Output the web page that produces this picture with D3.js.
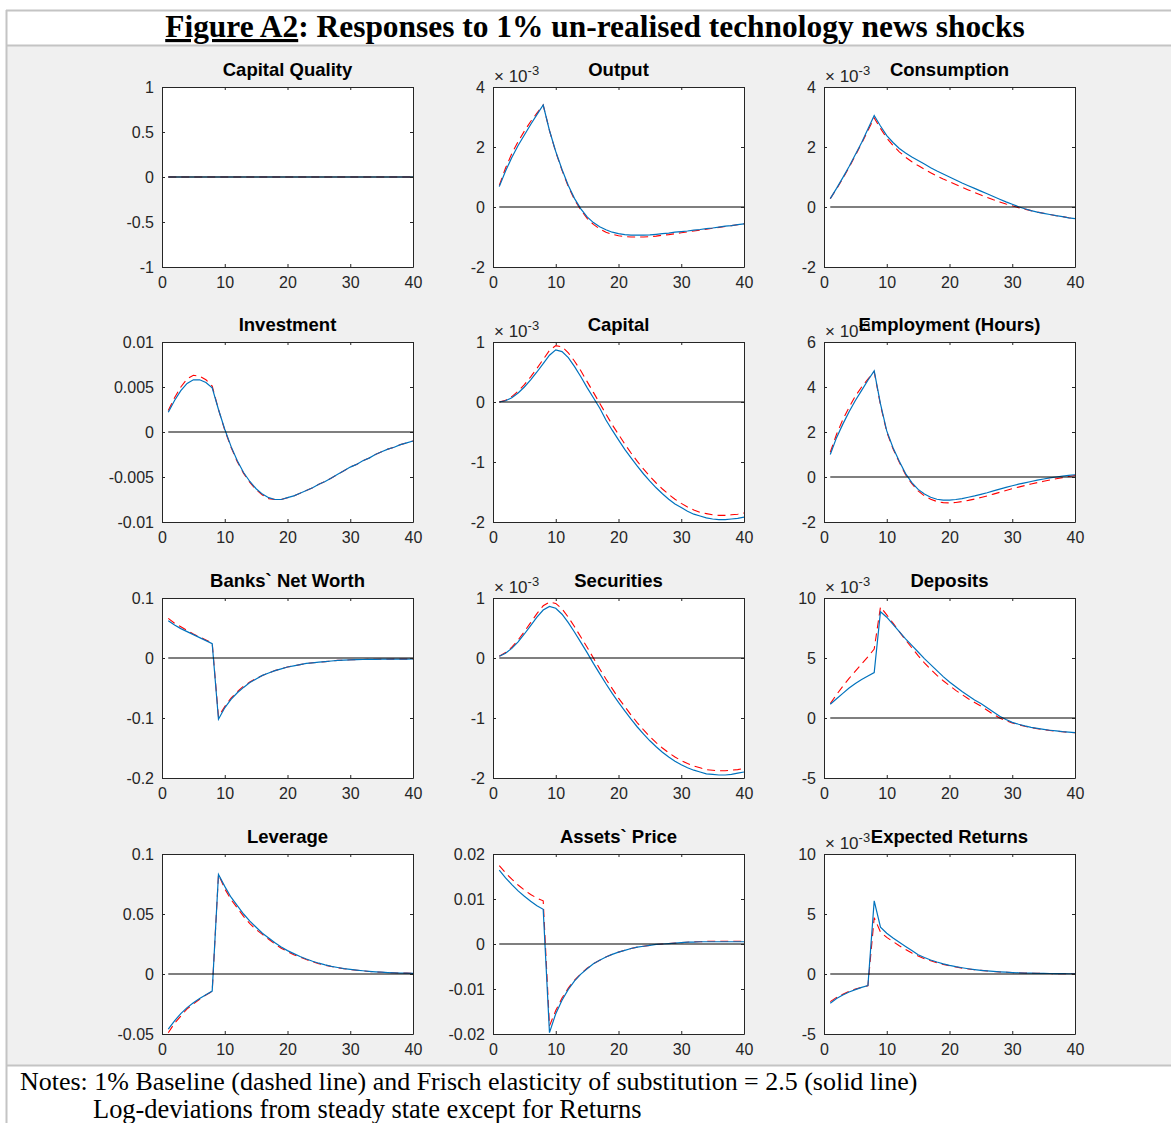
<!DOCTYPE html>
<html>
<head>
<meta charset="utf-8">
<script src="https://cdn.jsdelivr.net/npm/d3@7"></script>
<style>
body { margin: 0; background: #fff; }
svg text { font-family: "Liberation Sans", Arial, sans-serif; }
</style>
</head>
<body>
<div id="canvas"></div>
<script>
// horizon (quarters)
const periods = [1,2,3,4,5,6,7,8,9,10,11,12,13,14,15,16,17,18,19,20,21,22,23,24,25,26,27,28,29,30,31,32,33,34,35,36,37,38,39,40];

const panelTitles = ["Capital Quality", "Output", "Consumption",
    "Investment", "Capital", "Employment (Hours)",
    "Banks` Net Worth", "Securities", "Deposits",
    "Leverage", "Assets` Price", "Expected Returns"];

// y tick values per panel (values shown in units of 10^exponent where an exponent is given)
const yTickValues = [
    [-1, -0.5, 0, 0.5, 1], [-2, 0, 2, 4], [-2, 0, 2, 4],
    [-0.01, -0.005, 0, 0.005, 0.01], [-2, -1, 0, 1], [-2, 0, 2, 4, 6],
    [-0.2, -0.1, 0, 0.1], [-2, -1, 0, 1], [-5, 0, 5, 10],
    [-0.05, 0, 0.05, 0.1], [-0.02, -0.01, 0, 0.01, 0.02], [-5, 0, 5, 10]
];
const xTickValues = [0, 10, 20, 30, 40];
const exponents = [null, -3, -3, null, -3, -3, null, -3, -3, null, null, -3];

// baseline = dashed red, frisch 2.5 = solid blue
const capQualityBase = [0,0,0,0,0,0,0,0,0,0,0,0,0,0,0,0,0,0,0,0,0,0,0,0,0,0,0,0,0,0,0,0,0,0,0,0,0,0,0,0];
const capQualityFrisch = [0,0,0,0,0,0,0,0,0,0,0,0,0,0,0,0,0,0,0,0,0,0,0,0,0,0,0,0,0,0,0,0,0,0,0,0,0,0,0,0];

const outputBase = [0.72,1.3,1.78,2.18,2.53,2.85,3.13,3.40,2.55,1.83,1.22,0.68,0.24,-0.1,-0.38,-0.58,-0.73,-0.84,-0.91,-0.96,-0.99,-1.0,-1.0,-1.0,-0.99,-0.97,-0.94,-0.92,-0.89,-0.86,-0.83,-0.8,-0.77,-0.74,-0.71,-0.68,-0.65,-0.62,-0.59,-0.56];
const outputFrisch = [0.68,1.2,1.65,2.05,2.4,2.75,3.08,3.40,2.55,1.85,1.25,0.72,0.28,-0.06,-0.33,-0.52,-0.66,-0.76,-0.84,-0.89,-0.92,-0.94,-0.94,-0.94,-0.93,-0.91,-0.89,-0.87,-0.84,-0.82,-0.8,-0.77,-0.75,-0.72,-0.7,-0.67,-0.64,-0.62,-0.59,-0.56];

const consumptionBase = [0.28,0.6,0.95,1.32,1.72,2.12,2.55,2.97,2.62,2.3,2.05,1.84,1.66,1.51,1.38,1.26,1.14,1.03,0.93,0.84,0.75,0.66,0.57,0.48,0.4,0.32,0.24,0.17,0.1,0.04,-0.02,-0.07,-0.12,-0.17,-0.21,-0.25,-0.29,-0.32,-0.36,-0.39];
const consumptionFrisch = [0.28,0.62,0.98,1.35,1.75,2.15,2.6,3.05,2.7,2.38,2.15,1.95,1.8,1.67,1.55,1.43,1.31,1.2,1.1,1.0,0.9,0.8,0.71,0.62,0.53,0.44,0.35,0.26,0.17,0.09,0.01,-0.06,-0.12,-0.17,-0.21,-0.25,-0.29,-0.32,-0.36,-0.39];

const investmentBase = [0.0024,0.0038,0.005,0.0059,0.0063,0.0062,0.0058,0.0051,0.0025,0.0002,-0.0017,-0.0033,-0.0046,-0.0056,-0.0064,-0.007,-0.0074,-0.0075,-0.0075,-0.0073,-0.0071,-0.0068,-0.0065,-0.0062,-0.0058,-0.0055,-0.0051,-0.0047,-0.0043,-0.0039,-0.0036,-0.0032,-0.0029,-0.0025,-0.0022,-0.0019,-0.0017,-0.0014,-0.0012,-0.001];
const investmentFrisch = [0.0022,0.0035,0.0046,0.0054,0.0058,0.0058,0.0055,0.0049,0.0025,0.0003,-0.0016,-0.0032,-0.0045,-0.0055,-0.0063,-0.0069,-0.0073,-0.0075,-0.0075,-0.0073,-0.0071,-0.0068,-0.0065,-0.0062,-0.0058,-0.0055,-0.0051,-0.0047,-0.0043,-0.0039,-0.0036,-0.0032,-0.0029,-0.0025,-0.0022,-0.0019,-0.0017,-0.0014,-0.0012,-0.001];

const capitalBase = [0.0,0.03,0.09,0.18,0.29,0.42,0.56,0.71,0.86,0.94,0.92,0.82,0.68,0.52,0.34,0.16,-0.02,-0.2,-0.38,-0.54,-0.7,-0.85,-0.99,-1.12,-1.24,-1.35,-1.45,-1.54,-1.62,-1.69,-1.75,-1.8,-1.84,-1.86,-1.88,-1.89,-1.89,-1.88,-1.87,-1.85];
const capitalFrisch = [0.0,0.02,0.07,0.15,0.25,0.37,0.5,0.64,0.78,0.87,0.84,0.74,0.59,0.42,0.24,0.07,-0.1,-0.3,-0.47,-0.63,-0.79,-0.93,-1.07,-1.2,-1.32,-1.43,-1.53,-1.62,-1.7,-1.76,-1.82,-1.87,-1.9,-1.93,-1.95,-1.96,-1.96,-1.95,-1.94,-1.92];

const employmentBase = [1.1,1.9,2.55,3.1,3.6,4.0,4.35,4.68,3.2,2.0,1.25,0.65,0.1,-0.3,-0.62,-0.84,-0.99,-1.09,-1.14,-1.15,-1.13,-1.09,-1.04,-0.98,-0.91,-0.84,-0.76,-0.68,-0.6,-0.52,-0.45,-0.38,-0.31,-0.25,-0.19,-0.13,-0.08,-0.03,0.02,0.07];
const employmentFrisch = [1.0,1.75,2.35,2.9,3.4,3.85,4.3,4.72,3.25,2.05,1.3,0.7,0.15,-0.25,-0.55,-0.76,-0.9,-0.99,-1.03,-1.03,-1.0,-0.96,-0.9,-0.84,-0.77,-0.7,-0.62,-0.54,-0.46,-0.39,-0.32,-0.26,-0.2,-0.14,-0.09,-0.04,0.0,0.04,0.07,0.1];

const netWorthBase = [0.066,0.058,0.052,0.046,0.04,0.035,0.03,0.025,-0.098,-0.081,-0.067,-0.056,-0.047,-0.04,-0.034,-0.029,-0.025,-0.021,-0.018,-0.015,-0.013,-0.011,-0.009,-0.008,-0.007,-0.006,-0.005,-0.004,-0.0035,-0.003,-0.0027,-0.0025,-0.0023,-0.0022,-0.002,-0.002,-0.0019,-0.0018,-0.0018,-0.0017];
const netWorthFrisch = [0.062,0.055,0.049,0.044,0.039,0.034,0.029,0.024,-0.102,-0.083,-0.069,-0.058,-0.049,-0.041,-0.035,-0.029,-0.025,-0.021,-0.018,-0.015,-0.013,-0.011,-0.009,-0.008,-0.007,-0.006,-0.005,-0.004,-0.0035,-0.003,-0.0027,-0.0025,-0.0023,-0.0022,-0.002,-0.002,-0.0019,-0.0018,-0.0018,-0.0017];

const securitiesBase = [0.03,0.09,0.18,0.3,0.44,0.59,0.74,0.87,0.93,0.91,0.82,0.68,0.52,0.35,0.18,0.0,-0.18,-0.35,-0.51,-0.67,-0.81,-0.95,-1.08,-1.2,-1.31,-1.41,-1.5,-1.58,-1.65,-1.71,-1.76,-1.8,-1.83,-1.86,-1.87,-1.88,-1.88,-1.87,-1.86,-1.84];
const securitiesFrisch = [0.03,0.08,0.16,0.27,0.4,0.54,0.68,0.8,0.86,0.83,0.73,0.59,0.43,0.26,0.09,-0.09,-0.26,-0.43,-0.59,-0.74,-0.88,-1.02,-1.15,-1.27,-1.38,-1.48,-1.57,-1.65,-1.72,-1.78,-1.83,-1.87,-1.9,-1.93,-1.94,-1.95,-1.95,-1.94,-1.92,-1.9];

const depositsBase = [1.2,1.95,2.65,3.3,3.9,4.5,5.1,5.75,9.25,8.6,7.9,7.2,6.5,5.85,5.2,4.6,4.05,3.55,3.1,2.7,2.3,1.95,1.6,1.3,1.0,0.65,0.3,0.0,-0.22,-0.42,-0.56,-0.69,-0.8,-0.89,-0.97,-1.04,-1.1,-1.15,-1.19,-1.22];
const depositsFrisch = [1.15,1.6,2.05,2.5,2.88,3.2,3.5,3.78,8.85,8.4,7.8,7.2,6.6,6.05,5.5,4.95,4.45,3.95,3.45,3.0,2.6,2.2,1.85,1.5,1.2,0.85,0.5,0.15,-0.12,-0.36,-0.52,-0.66,-0.78,-0.87,-0.95,-1.02,-1.08,-1.14,-1.18,-1.22];

const leverageBase = [-0.049,-0.041,-0.035,-0.029,-0.025,-0.021,-0.0175,-0.0145,0.083,0.071,0.062,0.055,0.048,0.042,0.037,0.033,0.029,0.025,0.0215,0.0187,0.016,0.014,0.012,0.0102,0.0086,0.0073,0.0062,0.0052,0.0044,0.0037,0.0031,0.0026,0.0021,0.0017,0.0014,0.0012,0.001,0.0008,0.0007,0.0006];
const leverageFrisch = [-0.046,-0.039,-0.033,-0.028,-0.024,-0.0205,-0.0172,-0.0142,0.083,0.073,0.064,0.057,0.05,0.044,0.039,0.034,0.03,0.026,0.0225,0.0195,0.017,0.0146,0.0125,0.0106,0.009,0.0076,0.0064,0.0054,0.0045,0.0038,0.0032,0.0027,0.0022,0.0018,0.0015,0.0012,0.001,0.0008,0.0007,0.0006];

const assetPriceBase = [0.0174,0.0158,0.0144,0.0131,0.012,0.011,0.0102,0.0096,-0.0182,-0.0148,-0.012,-0.0098,-0.008,-0.0066,-0.0054,-0.0044,-0.0036,-0.0029,-0.0023,-0.0018,-0.0014,-0.001,-0.0007,-0.0005,-0.0003,-0.0001,0.0,0.0001,0.0002,0.0003,0.0004,0.0005,0.0005,0.0006,0.0006,0.0006,0.0006,0.0006,0.0006,0.0006];
const assetPriceFrisch = [0.0164,0.0147,0.0132,0.0118,0.0106,0.0095,0.0085,0.0077,-0.0197,-0.0155,-0.0125,-0.0101,-0.0082,-0.0067,-0.0055,-0.0044,-0.0036,-0.0029,-0.0023,-0.0018,-0.0014,-0.001,-0.0007,-0.0005,-0.0003,-0.0001,0.0,0.0001,0.0002,0.0003,0.0004,0.0004,0.0005,0.0005,0.0005,0.0005,0.0005,0.0005,0.0005,0.0005];

const returnsBase = [-2.3,-1.95,-1.68,-1.45,-1.26,-1.1,-0.98,4.7,3.5,3.05,2.7,2.35,2.05,1.75,1.5,1.28,1.1,0.94,0.8,0.68,0.58,0.49,0.42,0.35,0.3,0.25,0.21,0.17,0.14,0.12,0.1,0.08,0.07,0.06,0.05,0.04,0.03,0.03,0.02,0.02];
const returnsFrisch = [-2.44,-2.05,-1.75,-1.5,-1.3,-1.12,-0.97,6.1,3.9,3.4,3.0,2.65,2.3,1.95,1.6,1.37,1.17,1.0,0.85,0.72,0.61,0.52,0.44,0.37,0.31,0.26,0.22,0.18,0.15,0.12,0.1,0.08,0.07,0.06,0.05,0.04,0.03,0.03,0.02,0.02];

const baselineSeries = [capQualityBase, outputBase, consumptionBase, investmentBase, capitalBase, employmentBase,
    netWorthBase, securitiesBase, depositsBase, leverageBase, assetPriceBase, returnsBase];
const frischSeries = [capQualityFrisch, outputFrisch, consumptionFrisch, investmentFrisch, capitalFrisch, employmentFrisch,
    netWorthFrisch, securitiesFrisch, depositsFrisch, leverageFrisch, assetPriceFrisch, returnsFrisch];

const figTitle = "Figure A2";
const figSubtitle = ": Responses to 1% un-realised technology news shocks";
const notes = ["Notes: 1% Baseline (dashed line) and Frisch elasticity of substitution = 2.5 (solid line)",
    "Log-deviations from steady state except for Returns"];

const W = 1171, H = 1123;
const colX = [162, 493, 824], rowY = [87, 342, 598, 854];
const pw = 251, ph = 180;
const axisColor = "#262626";

const svg = d3.select("#canvas")
    .append("svg")
    .attr("width", W)
    .attr("height", H);

// frame of the figure
svg.append("rect").attr("x", 0).attr("y", 0).attr("width", W).attr("height", H).attr("fill", "#fff");
svg.append("rect").attr("x", 7).attr("y", 46).attr("width", W - 7).attr("height", 1019).attr("fill", "#f0f0f0");
const frameLines = [[6, 10.5, W, 10.5], [6.5, 10, 6.5, H], [6, 45.5, W, 45.5], [6, 1065.5, W, 1065.5]];
svg.selectAll("line.frame")
    .data(frameLines)
    .join("line")
    .attr("class", "frame")
    .attr("x1", d => d[0]).attr("y1", d => d[1])
    .attr("x2", d => d[2]).attr("y2", d => d[3])
    .attr("stroke", "#c4c4c4")
    .attr("stroke-width", 2);

// title
const title = svg.append("text")
    .attr("x", 595).attr("y", 37)
    .attr("text-anchor", "middle")
    .style("font-family", "'Liberation Serif', 'DejaVu Serif', serif")
    .style("font-weight", "bold")
    .style("font-size", "29px")
    .attr("fill", "#000");
title.append("tspan").text(figTitle).style("text-decoration", "underline");
title.append("tspan").text(figSubtitle);
fitWidth(title, 860);

// notes
const noteLines = svg.selectAll("text.note")
    .data(notes)
    .join("text")
    .attr("class", "note")
    .attr("x", (d, i) => i === 0 ? 20 : 93)
    .attr("y", (d, i) => i === 0 ? 1090 : 1118)
    .style("font-family", "'Liberation Serif', 'DejaVu Serif', serif")
    .style("font-size", "22px")
    .attr("fill", "#000")
    .text(d => d);
noteLines.each(function (d, i) { fitWidth(d3.select(this), i === 0 ? 898 : 549); });

function fitWidth(sel, target) {
    const len = sel.node().getComputedTextLength();
    const fs = parseFloat(sel.style("font-size"));
    sel.style("font-size", (fs * target / len) + "px");
}

// panels
panelTitles.forEach((name, i) => {
    const g = svg.append("g")
        .attr("transform", `translate(${colX[i % 3]},${rowY[Math.floor(i / 3)]})`);

    const x = d3.scaleLinear().domain([0, 40]).range([0, pw]);
    const ticks = yTickValues[i];
    const y = d3.scaleLinear().domain(d3.extent(ticks)).range([ph, 0]);

    g.append("rect").attr("width", pw).attr("height", ph).attr("fill", "#fff");

    const line = d3.line()
        .x((d, j) => x(periods[j]))
        .y(d => y(d));

    g.append("path")
        .datum(baselineSeries[i])
        .attr("fill", "none")
        .attr("stroke", "#ff0000")
        .attr("stroke-width", 1.1)
        .attr("stroke-dasharray", "8,5")
        .attr("d", line);

    g.append("path")
        .datum(frischSeries[i])
        .attr("fill", "none")
        .attr("stroke", "#0072bd")
        .attr("stroke-width", 1.2)
        .attr("d", line);

    // zero line
    g.append("line")
        .attr("x1", x(periods[0])).attr("x2", x(periods[periods.length - 1]))
        .attr("y1", y(0)).attr("y2", y(0))
        .attr("stroke", "#000")
        .attr("stroke-width", 1.1);

    // axes (box with inward ticks)
    const styleAxis = sel => {
        sel.select(".domain").attr("stroke", axisColor);
        sel.selectAll(".tick line").attr("stroke", axisColor);
        sel.selectAll("text").attr("fill", axisColor).style("font-size", "16px")
            .style("font-family", "'Liberation Sans', Arial, sans-serif");
    };
    g.append("g")
        .attr("transform", `translate(0,${ph})`)
        .call(d3.axisBottom(x).tickValues(xTickValues).tickSizeInner(-3).tickSizeOuter(0).tickPadding(10))
        .call(styleAxis);
    g.append("g")
        .call(d3.axisTop(x).tickValues(xTickValues).tickSizeInner(-3).tickSizeOuter(0).tickFormat(""))
        .call(styleAxis);
    g.append("g")
        .call(d3.axisLeft(y).tickValues(ticks).tickSizeInner(-3).tickSizeOuter(0).tickPadding(8).tickFormat(d => String(d)))
        .call(styleAxis);
    g.append("g")
        .attr("transform", `translate(${pw},0)`)
        .call(d3.axisRight(y).tickValues(ticks).tickSizeInner(-3).tickSizeOuter(0).tickFormat(""))
        .call(styleAxis);

    // exponent label
    if (exponents[i] !== null) {
        const ex = g.append("text")
            .attr("x", 1).attr("y", -5)
            .attr("fill", axisColor)
            .style("font-size", "17px");
        ex.append("tspan").text("\u00d7 10");
        ex.append("tspan").attr("dy", -7).style("font-size", "13px").text(String(exponents[i]));
    }

    g.append("text")
        .attr("x", pw / 2).attr("y", -11)
        .attr("text-anchor", "middle")
        .attr("fill", "#000")
        .style("font-size", "18.5px")
        .style("font-weight", "bold")
        .text(name);
});
</script>
</body>
</html>
